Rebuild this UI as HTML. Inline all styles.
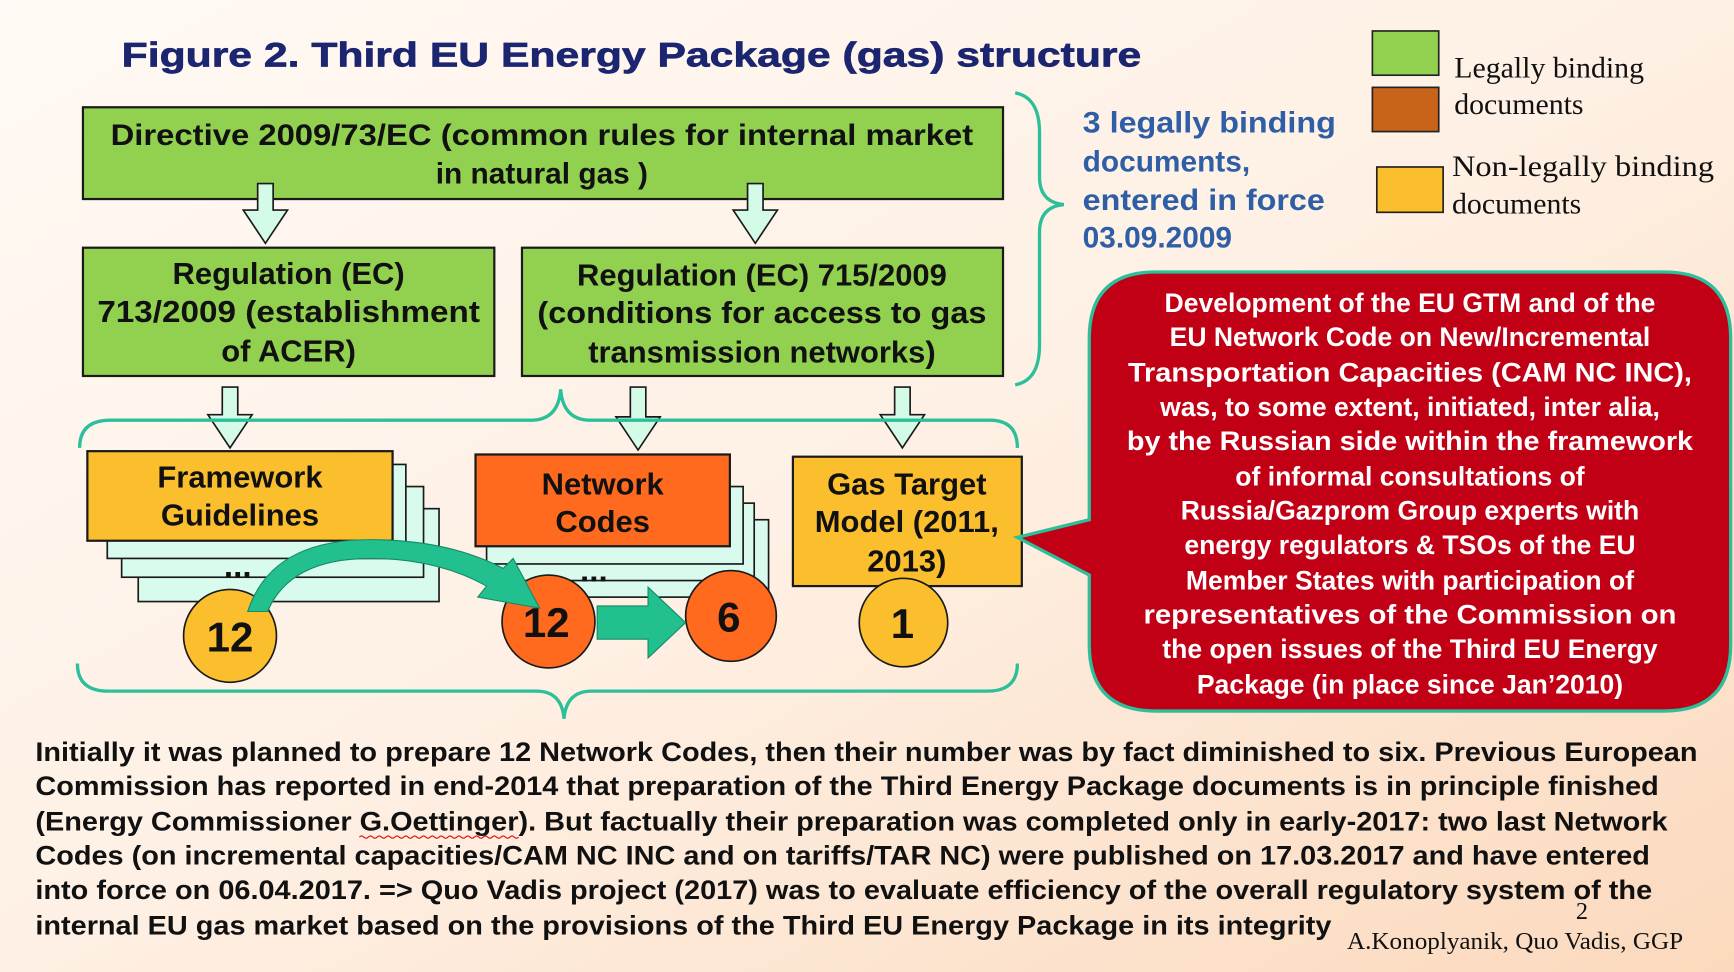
<!DOCTYPE html>
<html><head><meta charset="utf-8"><style>
html,body{margin:0;padding:0;width:1734px;height:972px;overflow:hidden;}
svg{display:block}
.b{font-family:"Liberation Sans",sans-serif;font-weight:bold}
.s{font-family:"Liberation Serif",serif}
</style></head><body>
<svg width="1734" height="972" viewBox="0 0 1568 879" preserveAspectRatio="none" xmlns="http://www.w3.org/2000/svg">
<defs>
<linearGradient id="bg" x1="0" y1="0" x2="1" y2="1">
<stop offset="0" stop-color="#fffaf5"/><stop offset="0.5" stop-color="#fef0e4"/><stop offset="1" stop-color="#fbd9bd"/>
</linearGradient>
</defs>
<rect width="1568" height="879" fill="url(#bg)"/>
<text x="110" y="60" class="b" font-family="DejaVu Sans" font-size="31" fill="#1b2570" stroke="#1b2570" stroke-width="0.6" textLength="922" lengthAdjust="spacingAndGlyphs">Figure 2. Third EU Energy Package (gas) structure</text>

<!-- legend -->
<rect x="1241" y="28" width="60" height="40" fill="#92d050" stroke="#222" stroke-width="1.5"/>
<rect x="1241" y="79" width="60" height="40" fill="#c8631a" stroke="#222" stroke-width="1.5"/>
<rect x="1245" y="151" width="60" height="41" fill="#fbbf2e" stroke="#222" stroke-width="1.5"/>
<g class="s" font-size="27" fill="#111">
<text x="1315" y="70">Legally binding</text>
<text x="1315" y="103">documents</text>
<text x="1313" y="159" textLength="237" lengthAdjust="spacingAndGlyphs">Non-legally binding</text>
<text x="1313" y="193">documents</text>
</g>

<!-- blue text -->
<g class="b" font-size="27" fill="#2e5ea6">
<text x="979" y="120" textLength="229" lengthAdjust="spacingAndGlyphs">3 legally binding</text>
<text x="979" y="155">documents,</text>
<text x="979" y="190" textLength="219" lengthAdjust="spacingAndGlyphs">entered in force</text>
<text x="979" y="224">03.09.2009</text>
</g>

<!-- right brace -->
<path d="M918 84 Q940 88 940 120 L940 160 Q940 183 962 185 Q940 187 940 210 L940 312 Q940 344 918 348" fill="none" stroke="#2bbf9a" stroke-width="3"/>

<!-- directive -->
<rect x="75" y="97" width="832" height="83" fill="#92d050" stroke="#1a1a1a" stroke-width="2"/>
<g class="b" font-size="27" fill="#111" text-anchor="middle">
<text x="490" y="131" textLength="780" lengthAdjust="spacingAndGlyphs">Directive 2009/73/EC  (common rules for internal market</text>
<text x="490" y="166">in natural gas )</text>
</g>

<!-- hollow arrows -->
<g fill="#d4fbe8" stroke="#1a1a1a" stroke-width="1.5">
<path d="M233 166 h14 v24 h13 l-20 30 l-20 -30 h13 z"/>
<path d="M676 166 h14 v24 h13 l-20 30 l-20 -30 h13 z"/>
<path d="M201 350 h14 v25 h13 l-20 30 l-20 -30 h13 z"/>
<path d="M570 350 h14 v27 h13 l-20 30 l-20 -30 h13 z"/>
<path d="M809 350 h14 v25 h13 l-20 30 l-20 -30 h13 z"/>
</g>

<!-- regulations -->
<rect x="75" y="224" width="372" height="116" fill="#92d050" stroke="#1a1a1a" stroke-width="2"/>
<rect x="472" y="224" width="435" height="116" fill="#92d050" stroke="#1a1a1a" stroke-width="2"/>
<g class="b" font-size="28" fill="#111" text-anchor="middle">
<text x="261" y="257">Regulation (EC)</text>
<text x="261" y="291" textLength="346" lengthAdjust="spacingAndGlyphs">713/2009  (establishment</text>
<text x="261" y="327">of ACER)</text>
<text x="689" y="258">Regulation (EC) 715/2009</text>
<text x="689" y="292" textLength="406" lengthAdjust="spacingAndGlyphs">(conditions for access to gas</text>
<text x="689" y="328">transmission networks)</text>
</g>

<!-- upper brace -->
<path d="M72 405 Q72 380 100 380 L480 380 Q505 380 507 352 Q509 380 534 380 L895 380 Q920 380 920 405" fill="none" stroke="#2bbf9a" stroke-width="3"/>
<!-- lower brace -->
<path d="M70 600 Q70 625 98 625 L485 625 Q508 625 510 650 Q512 625 535 625 L893 625 Q920 625 920 600" fill="none" stroke="#2bbf9a" stroke-width="3"/>

<!-- stacked pages -->
<g fill="#d8fbee" stroke="#1a1a1a" stroke-width="1.5">
<rect x="125" y="460" width="272" height="84"/>
<rect x="110" y="440" width="273" height="82"/>
<rect x="97" y="420" width="270" height="85"/>
<rect x="452" y="470" width="243" height="70"/>
<rect x="446" y="455" width="236" height="70"/>
<rect x="440" y="440" width="232" height="70"/>
</g>
<text x="215" y="522" class="b" font-size="30" fill="#111" text-anchor="middle">...</text>
<text x="537" y="526" class="b" font-size="30" fill="#111" text-anchor="middle">...</text>

<rect x="79" y="408" width="276" height="81" fill="#fbbf2e" stroke="#1a1a1a" stroke-width="2"/>
<rect x="430" y="411" width="230" height="83" fill="#ff6a1e" stroke="#1a1a1a" stroke-width="2"/>
<rect x="717" y="413" width="207" height="117" fill="#fbbf2e" stroke="#1a1a1a" stroke-width="2"/>
<g class="b" font-size="28" fill="#111" text-anchor="middle">
<text x="217" y="441">Framework</text>
<text x="217" y="475">Guidelines</text>
<text x="545" y="447">Network</text>
<text x="545" y="481">Codes</text>
<text x="820" y="447">Gas Target</text>
<text x="820" y="481">Model (2011,</text>
<text x="820" y="517">2013)</text>
</g>

<!-- circles -->
<g stroke="#1a1a1a" stroke-width="1.5">
<circle cx="208" cy="575" r="42" fill="#fbbf2e"/>
<circle cx="817" cy="563" r="40" fill="#fbbf2e"/>
<circle cx="496" cy="562" r="42" fill="#ff6a1e"/>
<circle cx="661" cy="557" r="41" fill="#ff6a1e"/>
</g>
<!-- curved arrow -->
<path d="M242 553 Q262 505 335 505 Q395 505 440 530 L432 540 L488 550 L464 505 L455 514 Q405 488 335 488 Q245 488 224 553 Z" fill="#22c08f" stroke="#178a66" stroke-width="1"/>
<!-- straight arrow -->
<path d="M540 548 h46 v-17 l34 32 l-34 32 v-17 h-46 z" fill="#22c08f" stroke="#178a66" stroke-width="1"/>
<g class="b" font-size="38" fill="#111" text-anchor="middle">
<text x="208" y="589">12</text>
<text x="494" y="576">12</text>
<text x="659" y="571">6</text>
<text x="816" y="577">1</text>
</g>

<!-- callout -->
<path d="M1045 246 L1505 246 Q1565 246 1565 306 L1565 583 Q1565 643 1505 643 L1045 643 Q985 643 985 583 L985 520 L920 486 L985 470 L985 306 Q985 246 1045 246 Z" fill="#c10016" stroke="#2bbf9a" stroke-width="3"/>
<g class="b" font-size="24" fill="#fff" text-anchor="middle">
<text x="1275" y="282">Development of the EU GTM and of the</text>
<text x="1275" y="313">EU Network Code on New/Incremental</text>
<text x="1275" y="345" textLength="510" lengthAdjust="spacingAndGlyphs">Transportation Capacities (CAM NC INC),</text>
<text x="1275" y="376">was, to some extent, initiated, inter alia,</text>
<text x="1275" y="407" textLength="512" lengthAdjust="spacingAndGlyphs">by the Russian side within the framework</text>
<text x="1275" y="439">of informal consultations of</text>
<text x="1275" y="470">Russia/Gazprom Group experts with</text>
<text x="1275" y="501">energy regulators &amp; TSOs of the EU</text>
<text x="1275" y="533">Member States with participation of</text>
<text x="1275" y="564" textLength="482" lengthAdjust="spacingAndGlyphs">representatives of the Commission  on</text>
<text x="1275" y="595">the open issues of the Third EU Energy</text>
<text x="1275" y="627">Package (in place since Jan’2010)</text>
</g>

<!-- bottom text -->
<g class="b" font-size="24" fill="#111">
<text x="32" y="688" textLength="1503" lengthAdjust="spacingAndGlyphs">Initially it was planned to prepare 12 Network Codes, then their number was by fact diminished to six. Previous European</text>
<text x="32" y="719" textLength="1468" lengthAdjust="spacingAndGlyphs">Commission has reported in end-2014 that preparation of the Third Energy Package documents is in principle finished</text>
<text x="32" y="751" textLength="1476" lengthAdjust="spacingAndGlyphs">(Energy Commissioner G.Oettinger). But factually their preparation was completed only in early-2017: two last Network</text>
<text x="32" y="782" textLength="1460" lengthAdjust="spacingAndGlyphs">Codes (on incremental capacities/CAM NC INC and on tariffs/TAR NC) were published on 17.03.2017 and have entered</text>
<text x="32" y="813" textLength="1462" lengthAdjust="spacingAndGlyphs">into force on 06.04.2017. =&gt; Quo Vadis project (2017) was to evaluate efficiency of the overall regulatory system of the</text>
<text x="32" y="845" textLength="1172" lengthAdjust="spacingAndGlyphs">internal EU gas market based on the provisions of the Third EU Energy Package in its integrity</text>
</g>
<path d="M325 757 q2 -2 4 0 t4 0 t4 0 t4 0 t4 0 t4 0 t4 0 t4 0 t4 0 t4 0 t4 0 t4 0 t4 0 t4 0 t4 0 t4 0 t4 0 t4 0 t4 0 t4 0 t4 0 t4 0 t4 0 t4 0 t4 0 t4 0 t4 0 t4 0 t4 0 t4 0 t4 0 t4 0 t4 0 t4 0 t4 0 t4 0" fill="none" stroke="#d00" stroke-width="1"/>
<text x="1425" y="831" class="s" font-size="22" fill="#111">2</text>
<text x="1218" y="858" class="s" font-size="22" fill="#111" textLength="304" lengthAdjust="spacingAndGlyphs">A.Konoplyanik, Quo Vadis, GGP</text>
</svg>
</body></html>
